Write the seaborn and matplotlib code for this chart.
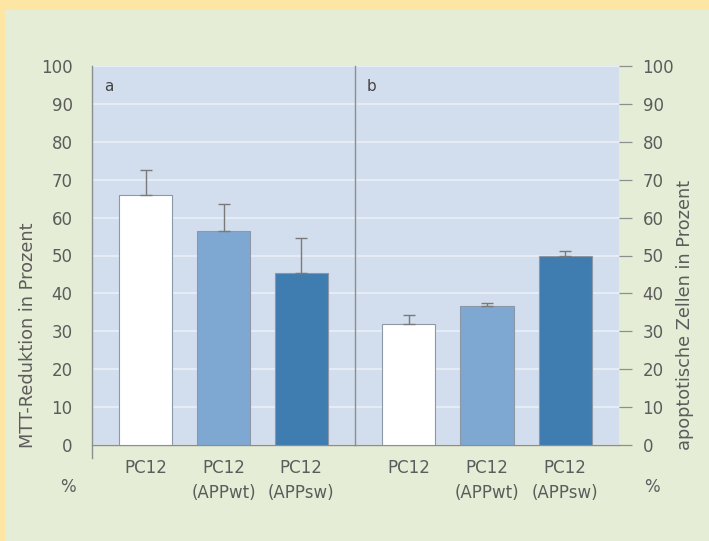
import numpy as np
import pandas as pd
import matplotlib
matplotlib.use("Agg")
import matplotlib.pyplot as plt
import seaborn as sns

# data
groups = ["PC12", "PC12 (APPwt)", "PC12 (APPsw)"]
tick_labels = ["PC12", "PC12\n(APPwt)", "PC12\n(APPsw)"]
mtt_values = [66, 56.5, 45.3]
mtt_err = [6.5, 7.0, 9.2]
apo_values = [32, 36.8, 50]
apo_err = [2.2, 0.6, 1.2]

bar_colors = ["#ffffff", "#7ea7d1", "#3f7cb0"]
txt = "#5c5c5c"
edge = "#8c98a6"

sns.set_style("white")
plt.rcParams['font.family'] = ['DejaVu Sans']

W, H = 709, 541
fig = plt.figure(figsize=(W / 100, H / 100), dpi=100)
fig.patch.set_facecolor("#fde5a4")
# green inner panel
fig.add_artist(plt.Rectangle((5 / W, 0), 1, 1 - 10 / H, transform=fig.transFigure,
                             facecolor="#e5edd6", edgecolor="none", zorder=0))

x0, xd, x1 = 92, 355, 619
ytop, ybot = 66, 445

def make_ax(left, right):
    ax = fig.add_axes([left / W, (H - ybot) / H, (right - left) / W, (ybot - ytop) / H])
    ax.set_facecolor("#d2deee")
    return ax

ax_a = make_ax(x0, xd)
ax_b = make_ax(xd, x1)

for ax, vals, errs, letter in [(ax_a, mtt_values, mtt_err, "a"), (ax_b, apo_values, apo_err, "b")]:
    df = pd.DataFrame({"group": groups, "value": vals})
    sns.barplot(data=df, x="group", y="value", hue="group", palette=bar_colors,
                saturation=1, width=0.68, edgecolor=edge, linewidth=0.8, legend=False,
                ax=ax, zorder=3)
    ax.errorbar(range(3), vals, yerr=[np.zeros(3), errs], fmt="none",
                ecolor="#7a7a7a", elinewidth=1.0, capsize=4, capthick=1.0, zorder=4)
    ax.set_ylim(0, 100)
    ax.set_xlim(-0.69, 2.69)
    ax.set_yticks(np.arange(0, 101, 10))
    ax.yaxis.grid(True, color="#e9eff8", linewidth=1.2, zorder=1)
    ax.set_axisbelow(True)
    ax.set_xlabel("")
    ax.set_ylabel("")
    ax.set_xticks(range(3))
    ax.set_xticklabels(tick_labels, fontsize=12, color=txt, linespacing=1.5)
    ax.tick_params(axis="x", length=0, pad=10)
    ax.text(0.045, 0.965, letter, transform=ax.transAxes, fontsize=11,
            color="#444444", ha="left", va="top")
    for s in ["top", "right"]:
        ax.spines[s].set_visible(False)
    ax.spines["bottom"].set_color("#8e8e8e")
    ax.spines["bottom"].set_linewidth(1.0)

# left panel: ticks on the left
ax_a.spines["left"].set_color("#8e8e8e")
ax_a.spines["left"].set_linewidth(1.0)
ax_a.spines["left"].set_bounds(-3.3, 100)
ax_a.tick_params(axis="y", direction="out", length=9, width=0.9, color="#8e8e8e",
                 labelsize=12, labelcolor=txt, pad=5)

# right panel: left spine is the divider, ticks on the right
ax_b.spines["left"].set_color("#8e8e8e")
ax_b.spines["left"].set_linewidth(1.0)
ax_b.yaxis.tick_right()
ax_b.tick_params(axis="y", direction="out", length=9, width=0.9, color="#8e8e8e",
                 labelsize=12, labelcolor=txt, pad=8, left=False, labelleft=False)

fig.text(68 / W, 1 - 487 / H, "%", fontsize=12, color=txt, ha="center", va="center")
fig.text(652 / W, 1 - 487 / H, "%", fontsize=12, color=txt, ha="center", va="center")
fig.text(28 / W, 1 - 335 / H, "MTT-Reduktion in Prozent", rotation=90, fontsize=12.8,
         color=txt, ha="center", va="center")
fig.text(685 / W, 1 - 315 / H, "apoptotische Zellen in Prozent", rotation=90, fontsize=12.8,
         color=txt, ha="center", va="center")

fig.savefig("out.png", dpi=100, facecolor=fig.get_facecolor())
